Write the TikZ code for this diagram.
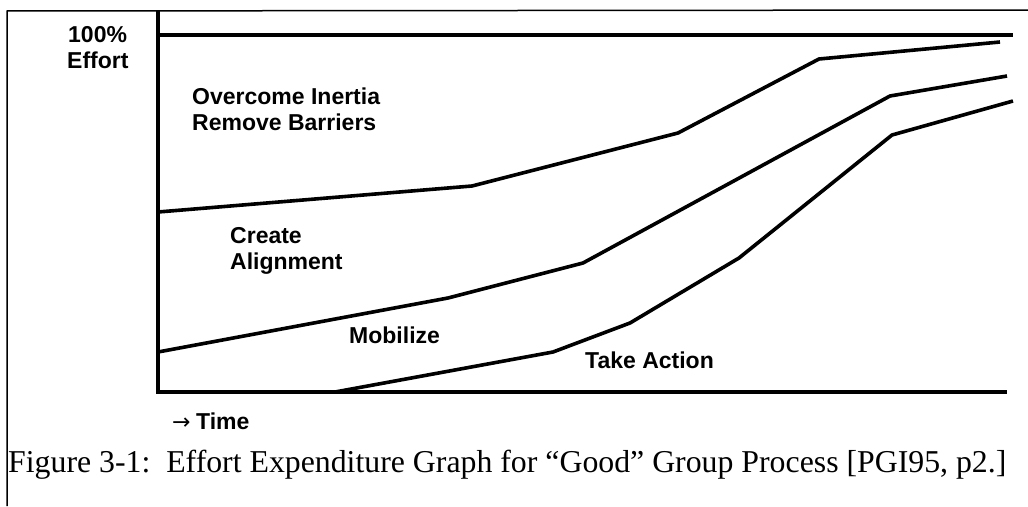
\documentclass[tikz,border=0pt]{standalone}
\usepackage{fontspec}
\setmainfont{Liberation Serif}
\setsansfont{Liberation Sans}
\newfontfamily\arrowfont{DejaVu Sans}
\begin{document}
\begin{tikzpicture}[x=1pt,y=-1pt,
  lbl/.style={anchor=base west,inner sep=0pt,font=\sffamily\bfseries\fontsize{23}{26}\selectfont},
  axisline/.style={line width=4pt},
  phase/.style={line width=3.6pt,line join=round},
  frameline/.style={line width=1.5pt}]
\useasboundingbox (0,0) rectangle (1028,506);
% page frame (left and top rules)
\coordinate (frameTL) at (7,11);
\coordinate (frameBL) at (7,506);
\coordinate (frameTR) at (1028,10);
\draw[frameline] (frameBL) -- (frameTL) -- (frameTR);
% axes and the 100% level
\coordinate (yTop) at (158,11);
\coordinate (origin) at (158,392);
\coordinate (xEnd) at (1007,392);
\coordinate (fullL) at (158,35);
\coordinate (fullR) at (1013,35);
\draw[axisline] (yTop) -- (origin) -- (xEnd);
\draw[axisline] (fullL) -- (fullR);
% phase boundaries
\draw[phase] (158,212) -- (472,186) -- (678,133) -- (819,59) -- (1000,42);
\draw[phase] (158,352) -- (448,298) -- (583,263) -- (890,96) -- (1007,76);
\draw[phase] (335,392) -- (553,352) -- (630,323) -- (739,258) -- (892,135) -- (1013,101);
% labels
\node[lbl] (pct) at (68,42) {100\%};
\node[lbl] (eff) at (67,68) {Effort};
\node[lbl] (over) at (192,104) {Overcome Inertia};
\node[lbl] (remove) at (192,130) {Remove Barriers};
\node[lbl] (create) at (230,243) {Create};
\node[lbl] (align) at (230,269) {Alignment};
\node[lbl] (mob) at (349,343) {Mobilize};
\node[lbl] (act) at (585,368) {Take Action};
\node[lbl] (arrow) at (172,429) {\arrowfont\mdseries\fontsize{22}{24}\selectfont →};
\node[lbl] (time) at (196,429) {Time};
\node[anchor=base west,inner sep=0pt,font=\rmfamily\fontsize{31.8}{36}\selectfont] (cap) at (8,472)
  {Figure 3-1:\ \ Effort Expenditure Graph for “Good” Group Process [PGI95, p2.]};
\end{tikzpicture}
\end{document}
